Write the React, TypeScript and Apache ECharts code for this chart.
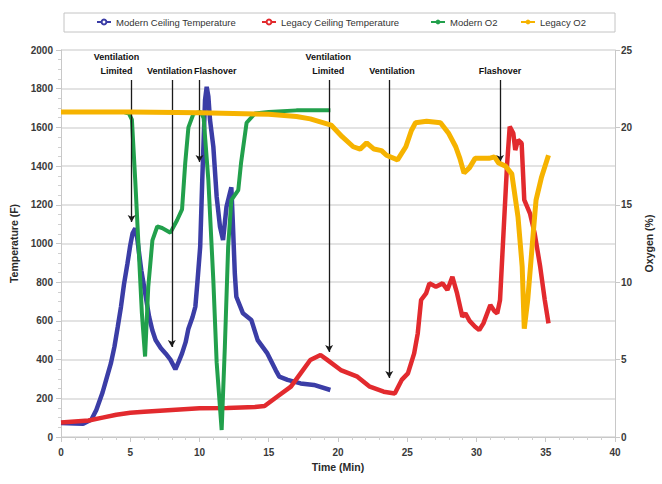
import React, { useEffect, useRef } from "react";
import * as echarts from "echarts";

// ---- data ----
const modernTempTime = [0, 1, 1.6, 2.2, 2.55, 3.0, 3.26, 3.6, 3.86, 4.1, 4.33, 4.55, 4.8, 5.0, 5.17, 5.36, 5.5, 5.64, 5.8, 6.0, 6.2, 6.36, 6.6, 6.83, 7.2, 7.55, 7.9, 8.26, 8.5, 8.74, 9.0, 9.2, 9.5, 9.7, 9.85, 10.05, 10.2, 10.4, 10.52, 10.64, 10.76, 11.0, 11.24, 11.48, 11.7, 11.95, 12.19, 12.3, 12.4, 12.55, 12.66, 13.14, 13.74, 14.2, 14.9, 15.5, 15.76, 16.36, 17.3, 18.26, 19.45];
const modernTempF = [72, 70, 68, 90, 140, 230, 295, 380, 467, 570, 673, 790, 897, 990, 1053, 1078, 1030, 949, 860, 777, 690, 622, 550, 501, 460, 432, 400, 350, 390, 432, 490, 560, 620, 673, 800, 983, 1328, 1742, 1810, 1760, 1638, 1500, 1242, 1087, 1018, 1190, 1259, 1290, 1121, 846, 725, 639, 605, 501, 432, 346, 312, 295, 277, 269, 243];

const legacyTempTime = [0, 2, 3, 4, 5, 6, 8, 10, 12, 14, 14.7, 15.6, 16.6, 17.3, 18.0, 18.74, 19.2, 20.2, 21.4, 22.3, 23.3, 24.1, 24.6, 25.05, 25.5, 25.76, 26.0, 26.36, 26.6, 27.07, 27.55, 27.9, 28.26, 28.6, 28.98, 29.2, 29.5, 29.9, 30.2, 30.5, 31.0, 31.3, 31.5, 31.7, 31.95, 32.2, 32.4, 32.66, 32.8, 33.0, 33.26, 33.45, 33.86, 34.2, 34.6, 34.93, 35.2];
const legacyTempF = [75, 85, 100, 115, 125, 130, 140, 148, 150, 155, 160, 208, 260, 329, 398, 424, 400, 346, 312, 260, 234, 225, 295, 329, 432, 536, 708, 742, 794, 777, 794, 760, 828, 742, 622, 639, 600, 570, 553, 587, 682, 650, 639, 708, 1053, 1397, 1604, 1569, 1483, 1535, 1518, 1225, 1156, 1053, 880, 708, 587];

const modernO2Time = [0, 4.5, 4.9, 5.12, 5.36, 5.6, 5.84, 6.07, 6.3, 6.6, 6.95, 7.3, 7.9, 8.38, 8.74, 8.97, 9.2, 9.57, 10.1, 10.3, 10.64, 11.0, 11.24, 11.6, 11.83, 12.07, 12.3, 12.8, 13.0, 13.4, 14.0, 15, 17, 19.45];
const modernO2Pct = [21.0, 21.0, 20.9, 20.5, 16.6, 12.3, 8.0, 5.2, 9.7, 12.7, 13.6, 13.5, 13.2, 14.0, 14.7, 17.7, 20.0, 20.9, 21.0, 20.6, 16.6, 10.1, 4.8, 0.45, 5.8, 12.3, 15.3, 15.95, 17.7, 20.3, 20.9, 21.0, 21.1, 21.1];

const legacyO2Time = [0, 5, 10, 15, 17, 18, 19.5, 20.3, 21.1, 21.6, 22.07, 22.6, 23.14, 23.5, 24.3, 24.9, 25.3, 25.6, 26.4, 27.4, 28.0, 28.5, 28.8, 29.1, 29.5, 29.9, 30.9, 31.3, 31.6, 32.1, 32.55, 33.0, 33.3, 33.45, 33.7, 34.1, 34.3, 34.7, 35.2];
const legacyO2Pct = [21.0, 21.0, 20.95, 20.85, 20.7, 20.55, 20.15, 19.4, 18.75, 18.6, 19.0, 18.6, 18.5, 18.2, 17.9, 18.75, 19.8, 20.3, 20.4, 20.3, 19.6, 18.75, 18.0, 17.05, 17.4, 18.0, 18.0, 18.1, 17.7, 17.5, 17.0, 14.2, 11.0, 7.0, 8.85, 13.2, 15.3, 16.8, 18.2];

const seriesNames = ["Modern Ceiling Temperature", "Legacy Ceiling Temperature", "Modern O2", "Legacy O2"];
const seriesColors = ["#3B3DA6", "#E22A2E", "#22A04C", "#F6B300"];

const tempTicks = { min: 0, max: 2000, interval: 200 };
const o2Ticks = { min: 0, max: 25, interval: 5 };
const timeTicks = { min: 0, max: 40, interval: 5 };

// annotations: label, label position (time, temp), arrow time, arrow top temp, arrow end temp
const annLabels = ["Ventilation\nLimited", "Ventilation", "Flashover", "Ventilation\nLimited", "Ventilation", "Flashover"];
const annLabelTime = [4.0, 7.86, 11.14, 19.3, 23.9, 31.7];
const annLabelTemp = [1928, 1891, 1891, 1928, 1891, 1891];
const annArrowTime = [5.1, 8.0, 10.0, 19.36, 23.7, 31.7];
const annArrowTop = [1845, 1845, 1845, 1845, 1845, 1845];
const annArrowEnd = [1111, 465, 1421, 439, 305, 1421];

const zip = (a: number[], b: number[]) => a.map((v, i) => [v, b[i]]);

export default function App() {
  const ref = useRef<HTMLDivElement>(null);
  useEffect(() => {
    if (!ref.current) return;
    const chart = echarts.init(ref.current, null, { renderer: "svg" });
    const axisFont = { fontFamily: "'Liberation Sans', Arial, sans-serif", fontWeight: "bold" as const, fontSize: 10, color: "#3a3a3a" };
    const legendLefts = [96, 261, 430, 520];

    const markLineData = annArrowTime.map((t, i) => [
      { coord: [t, annArrowTop[i]] },
      { coord: [t, annArrowEnd[i]] },
    ]);
    const markPointData = annLabels.map((l, i) => ({
      coord: [annLabelTime[i], annLabelTemp[i]],
      label: { formatter: l },
    }));

    const lineSeries = (idx: number, data: number[][], yIdx: number, width: number, withSym: boolean) => ({
      name: seriesNames[idx],
      type: "line",
      yAxisIndex: yIdx,
      data,
      symbol: withSym ? "emptyCircle" : "none",
      symbolSize: 4,
      showSymbol: false,
      lineStyle: { color: seriesColors[idx], width },
      itemStyle: { color: seriesColors[idx] },
      z: 2 + idx,
    });

    chart.setOption({
      animation: false,
      backgroundColor: "#ffffff",
      grid: { left: 61, right: 41, top: 50, bottom: 47 },
      legend: legendLefts.map((l, i) => ({
        data: [seriesNames[i]],
        left: l,
        top: 17,
        itemWidth: 14,
        itemHeight: 6,
        itemGap: 4,
        textStyle: { fontFamily: "'Liberation Sans', Arial, sans-serif", fontSize: 9.5, color: "#333" },
        padding: 0,
      })),
      graphic: [
        {
          type: "rect",
          shape: { x: 64, y: 13, width: 551, height: 19 },
          style: { fill: "none", stroke: "#c4c4c4", lineWidth: 1 },
          silent: true,
        },
      ],
      xAxis: {
        type: "value",
        min: timeTicks.min,
        max: timeTicks.max,
        interval: timeTicks.interval,
        name: "Time (Min)",
        nameLocation: "middle",
        nameGap: 23,
        nameTextStyle: { ...axisFont, fontSize: 10.5, color: "#2a2a2a" },
        axisLine: { lineStyle: { color: "#c8c8c8" } },
        axisTick: { show: true, lineStyle: { color: "#c8c8c8" } },
        minorTick: { show: true, splitNumber: 5, length: 3, lineStyle: { color: "#d0d0d0" } },
        axisLabel: { ...axisFont, margin: 10, formatter: (v: number) => String(v) },
        splitLine: { show: false },
      },
      yAxis: [
        {
          type: "value",
          min: tempTicks.min,
          max: tempTicks.max,
          interval: tempTicks.interval,
          name: "Temperature (F)",
          nameLocation: "middle",
          nameRotate: 90,
          nameGap: 36,
          nameTextStyle: { ...axisFont, fontSize: 10.5, color: "#2a2a2a" },
          axisLine: { show: true, lineStyle: { color: "#c8c8c8" } },
          axisTick: { show: true, lineStyle: { color: "#c8c8c8" } },
          minorTick: { show: true, splitNumber: 4, length: 3, lineStyle: { color: "#d0d0d0" } },
          axisLabel: { ...axisFont, margin: 8, formatter: (v: number) => String(v) },
          splitLine: { show: true, lineStyle: { color: "#dadada", width: 1.5 } },
        },
        {
          type: "value",
          min: o2Ticks.min,
          max: o2Ticks.max,
          interval: o2Ticks.interval,
          position: "right",
          name: "Oxygen (%)",
          nameLocation: "middle",
          nameRotate: 90,
          nameGap: 24,
          nameTextStyle: { ...axisFont, fontSize: 10.5, color: "#2a2a2a" },
          axisLine: { show: true, lineStyle: { color: "#c8c8c8" } },
          axisTick: { show: true, lineStyle: { color: "#c8c8c8" } },
          axisLabel: { ...axisFont, margin: 6, formatter: (v: number) => String(v) },
          splitLine: { show: false },
        },
      ],
      series: [
        {
          ...lineSeries(0, zip(modernTempTime, modernTempF), 0, 4.5, true),
          markLine: {
            silent: true,
            symbol: ["none", "arrow"],
            symbolSize: [6, 7],
            label: { show: false },
            lineStyle: { color: "#1a1a1a", width: 1.3, type: "solid" },
            data: markLineData,
          },
          markPoint: {
            silent: true,
            symbol: "circle",
            symbolSize: 0,
            itemStyle: { color: "transparent" },
            label: {
              show: true,
              position: "inside",
              color: "#111",
              fontFamily: "'Liberation Sans', Arial, sans-serif",
              fontWeight: "bold",
              fontSize: 9,
              lineHeight: 14,
              align: "center",
            },
            data: markPointData,
          },
        },
        lineSeries(1, zip(legacyTempTime, legacyTempF), 0, 4.5, true),
        lineSeries(2, zip(modernO2Time, modernO2Pct), 1, 4, false),
        lineSeries(3, zip(legacyO2Time, legacyO2Pct), 1, 5, false),
      ],
    });
    return () => chart.dispose();
  }, []);
  return <div ref={ref} style={{ position: "fixed", left: 0, top: 0, width: 662, height: 484 }} />;
}
